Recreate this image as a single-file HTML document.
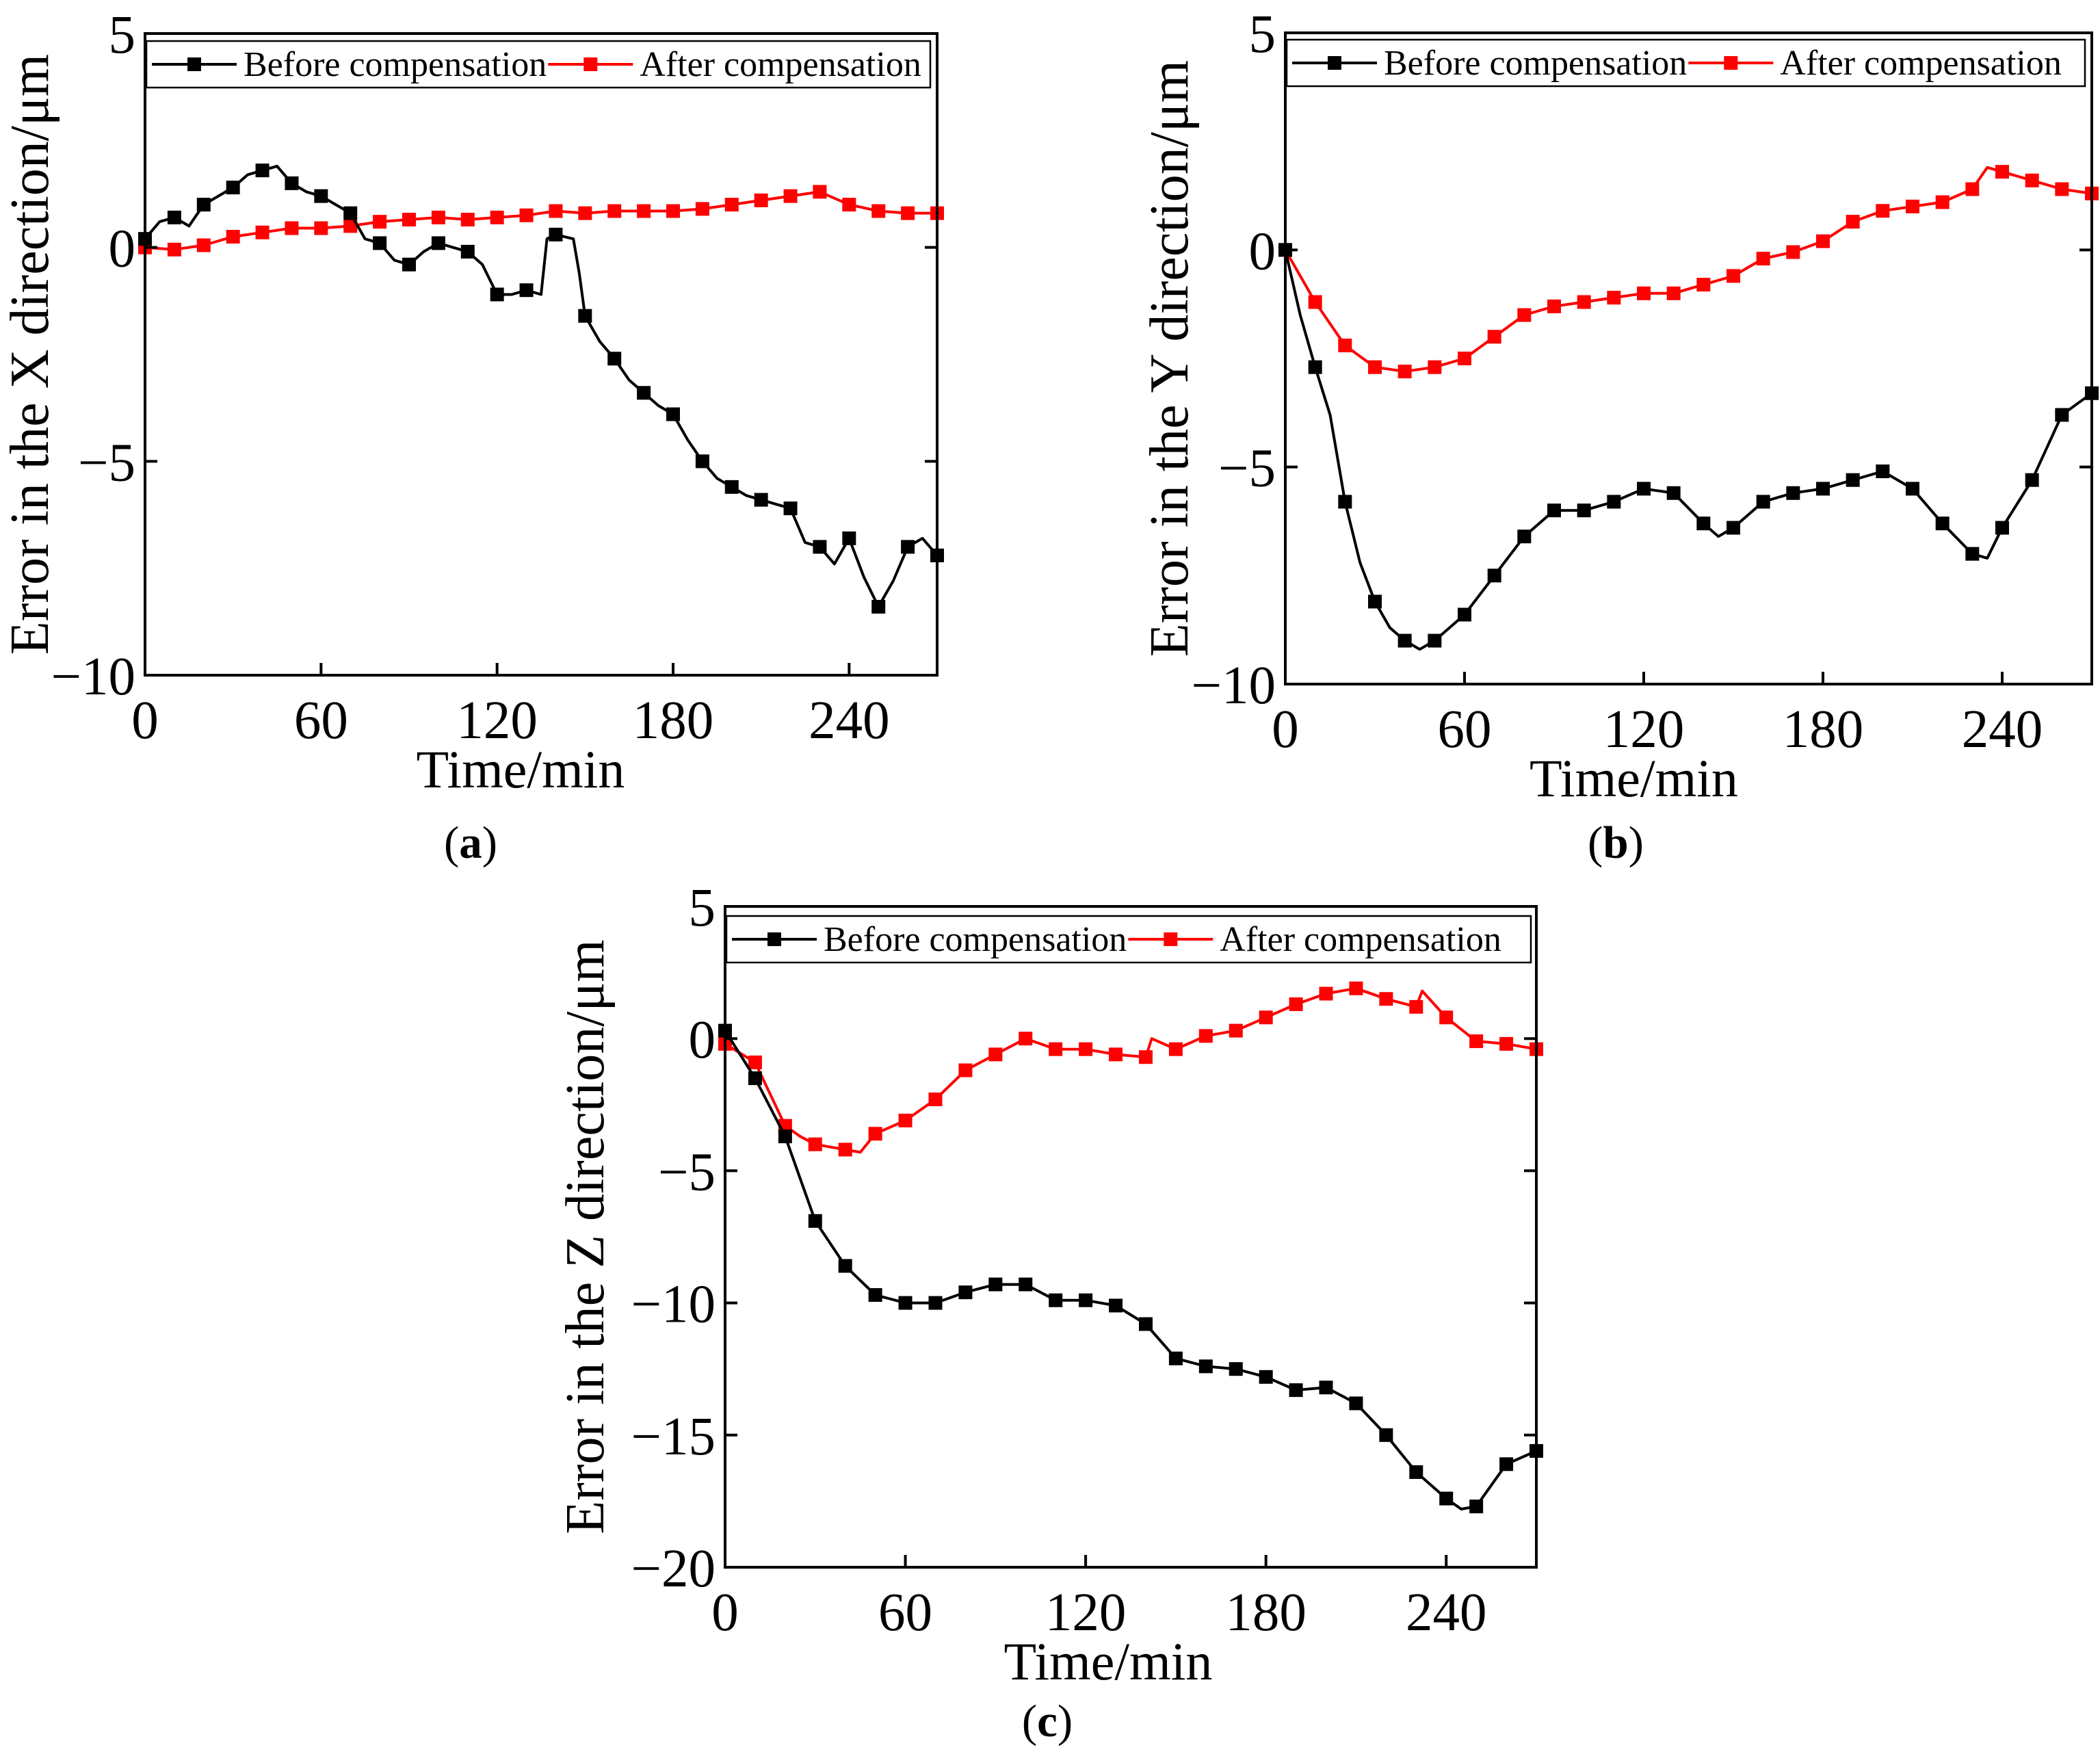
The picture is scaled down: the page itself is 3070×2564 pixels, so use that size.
<!DOCTYPE html>
<html><head><meta charset="utf-8"><style>
html,body{margin:0;padding:0;background:#fff;}
svg{display:block;font-family:"Liberation Serif",serif;}
</style></head><body>
<svg id="fig" width="3070" height="2564" viewBox="0 0 3070 2564" xmlns="http://www.w3.org/2000/svg"></svg>
<script>
// ---- data ----
const xTicks = [0, 60, 120, 180, 240];
const legendLabels = ["Before compensation", "After compensation"];
const aTimeB = [0,5,10,15,20,25,30,35,40,45,50,55,60,65,70,75,80,85,90,95,100,105,110,115,120,125,130,135,137,140,146,148,150,155,160,165,170,175,180,185,190,195,200,205,210,215,220,225,230,235,240,245,250,255,260,265,270];
const aBefore = [0.2,0.6,0.7,0.5,1.0,1.2,1.4,1.7,1.8,1.9,1.5,1.3,1.2,1.0,0.8,0.2,0.1,-0.3,-0.4,-0.1,0.1,0.0,-0.1,-0.4,-1.1,-1.1,-1.0,-1.1,0.2,0.3,0.2,-0.6,-1.6,-2.2,-2.6,-3.1,-3.4,-3.7,-3.9,-4.5,-5.0,-5.4,-5.6,-5.8,-5.9,-6.0,-6.1,-6.9,-7.0,-7.4,-6.8,-7.7,-8.4,-7.8,-7.0,-6.8,-7.2];
const aTimeA = [0,10,20,30,40,50,60,70,80,90,100,110,120,130,140,150,160,170,180,190,200,210,220,230,240,250,260,270];
const aAfter = [0,-0.05,0.05,0.25,0.35,0.45,0.45,0.5,0.6,0.65,0.7,0.65,0.7,0.75,0.85,0.8,0.85,0.85,0.85,0.9,1.0,1.1,1.2,1.3,1.0,0.85,0.8,0.8];
const aYTicks = [5,0,-5,-10];

const bTimeB = [0,5,10,15,20,25,30,35,40,45,50,55,60,70,80,90,100,110,120,130,140,145,150,160,170,180,190,200,210,220,230,235,240,250,260,270];
const bBefore = [0,-1.5,-2.7,-3.8,-5.8,-7.2,-8.1,-8.7,-9.0,-9.2,-9.0,-8.7,-8.4,-7.5,-6.6,-6.0,-6.0,-5.8,-5.5,-5.6,-6.3,-6.6,-6.4,-5.8,-5.6,-5.5,-5.3,-5.1,-5.5,-6.3,-7.0,-7.1,-6.4,-5.3,-3.8,-3.3];
const bTimeA = [0,10,20,30,40,50,60,70,80,90,100,110,120,130,140,150,160,170,180,190,200,210,220,230,235,240,250,260,270];
const bAfter = [0,-1.2,-2.2,-2.7,-2.8,-2.7,-2.5,-2.0,-1.5,-1.3,-1.2,-1.1,-1.0,-1.0,-0.8,-0.6,-0.2,-0.05,0.2,0.65,0.9,1.0,1.1,1.4,1.9,1.8,1.6,1.4,1.3];
const bYTicks = [5,0,-5,-10];

const cTimeB = [0,10,20,30,40,50,60,70,80,90,100,110,120,130,140,150,160,170,180,190,200,210,220,230,240,245,250,260,270];
const cBefore = [0.3,-1.5,-3.7,-6.9,-8.6,-9.7,-10.0,-10.0,-9.6,-9.3,-9.3,-9.9,-9.9,-10.1,-10.8,-12.1,-12.4,-12.5,-12.8,-13.3,-13.2,-13.8,-15.0,-16.4,-17.4,-17.8,-17.7,-16.1,-15.6];
const cTimeA = [0,10,20,25,30,40,45,50,60,70,80,90,100,110,120,130,140,142,150,160,170,180,190,200,210,220,230,232,240,250,260,270];
const cAfter = [-0.2,-0.9,-3.3,-3.7,-4.0,-4.2,-4.3,-3.6,-3.1,-2.3,-1.2,-0.6,0.0,-0.4,-0.4,-0.6,-0.7,0.0,-0.4,0.1,0.3,0.8,1.3,1.7,1.9,1.5,1.2,1.8,0.8,-0.1,-0.2,-0.4];
const cYTicks = [5,0,-5,-10,-15,-20];

const NS = "http://www.w3.org/2000/svg";
const svg = document.getElementById('fig');
function mk(tag, attrs, parent){ const e=document.createElementNS(NS,tag); for(const k in attrs) e.setAttribute(k,attrs[k]); (parent||svg).appendChild(e); return e; }

function panel(cfg){
  const g = mk('g',{});
  
  
  const sx = t => cfg.x0 + (t - 0) / 270 * (cfg.x1 - cfg.x0);
  const sy = v => cfg.yTop + (cfg.ymax - v) / (cfg.ymax - cfg.ymin) * (cfg.yBot - cfg.yTop);
  const series = [[cfg.tA, cfg.after, '#ff0000', 'after'], [cfg.tB, cfg.before, '#000000', 'before']];
  series.forEach(([ts, vs, col, nm]) => {
    const d = ts.map((t,i)=> (i?'L':'M')+sx(t).toFixed(1)+' '+sy(vs[i]).toFixed(1)).join(' ');
    const p = mk('path',{d:d, fill:'none', stroke:col, 'stroke-width':4, 'stroke-linejoin':'round'}, g);
    
    
    ts.forEach((t,i)=>{
      if (t % 10 !== 0) return;
      const r = mk('rect',{x:sx(t)-10, y:sy(vs[i])-10, width:20, height:20, fill:col}, g);
      
      
    });
  });
  const fr = mk('rect',{x:cfg.x0, y:cfg.yTop, width:cfg.x1-cfg.x0, height:cfg.yBot-cfg.yTop, fill:'none', stroke:'#000', 'stroke-width':4}, g);
  
  
  cfg.xt.forEach(t=>{
    const x = sx(t);
    mk('line',{x1:x,y1:cfg.yBot,x2:x,y2:cfg.yBot-18,stroke:'#000','stroke-width':4}, g);
    const tx = mk('text',{x:x, y:cfg.yBot+92, 'font-size':79, 'text-anchor':'middle'}, g);
    tx.textContent = t;
    
    
  });
  cfg.yt.forEach(v=>{
    const y = sy(v);
    mk('line',{x1:cfg.x0,y1:y,x2:cfg.x0+18,y2:y,stroke:'#000','stroke-width':4}, g);
    mk('line',{x1:cfg.x1,y1:y,x2:cfg.x1-18,y2:y,stroke:'#000','stroke-width':4}, g);
    const tx = mk('text',{x:cfg.x0-14, y:y+28, 'font-size':79, 'text-anchor':'end'}, g);
    tx.textContent = v < 0 ? '\u2212' + (-v) : String(v);
    
    
  });
  const L = cfg.leg;
  const lb = mk('rect',{x:L.x, y:L.y, width:L.w, height:68, fill:'#fff', stroke:'#000', 'stroke-width':2.5}, g);
  
  
  const ly = L.y + 34;
  let lx = L.x + 8;
  [['#000', legendLabels[0], 'legend-before'], ['#ff0000', legendLabels[1], 'legend-after']].forEach(([col,lab,nm])=>{
    mk('line',{x1:lx, y1:ly, x2:lx+124, y2:ly, stroke:col, 'stroke-width':4}, g);
    mk('rect',{x:lx+52, y:ly-10, width:20, height:20, fill:col}, g);
    const tx = mk('text',{x:lx+134, y:ly+17, 'font-size':52}, g);
    tx.textContent = lab;
    
    
    lx = lx + 134 + tx.getComputedTextLength() + 2;
  });
  const xt = mk('text',{x:(cfg.x0+cfg.x1)/2 + cfg.xtOff, y:cfg.yBot+164, 'font-size':78, 'text-anchor':'middle'}, g);
  xt.textContent = 'Time/min';
  
  
  const yc = (cfg.yTop+cfg.yBot)/2;
  const yt = mk('text',{x:cfg.ytx, y:yc, 'font-size':80, 'text-anchor':'middle', transform:'rotate(-90 '+cfg.ytx+' '+yc+')'}, g);
  yt.textContent = cfg.ytitle;
  
  
  const pl = mk('text',{x:cfg.lab[0], y:cfg.lab[1], 'font-size':67, 'text-anchor':'middle'}, g);
  pl.innerHTML = '(<tspan font-weight="bold">'+cfg.id+'</tspan>)';
  
  
}

panel({id:'a', x0:212, x1:1370, yTop:49, yBot:987, ymax:5, ymin:-10, xt:xTicks, yt:aYTicks,
  tB:aTimeB, before:aBefore, tA:aTimeA, after:aAfter, xtOff:-30,
  leg:{x:214, y:60, w:1146}, ytx:70, ytitle:'Error in the X direction/\u03bcm', lab:[688,1254]});
panel({id:'b', x0:1879, x1:3058, yTop:48, yBot:1000, ymax:5, ymin:-10, xt:xTicks, yt:bYTicks,
  tB:bTimeB, before:bBefore, tA:bTimeA, after:bAfter, xtOff:-80,
  leg:{x:1881, y:58, w:1167}, ytx:1736, ytitle:'Error in the Y direction/\u03bcm', lab:[2362,1254]});
panel({id:'c', x0:1060, x1:2246, yTop:1325, yBot:2291, ymax:5, ymin:-20, xt:xTicks, yt:cYTicks,
  tB:cTimeB, before:cBefore, tA:cTimeA, after:cAfter, xtOff:-33,
  leg:{x:1062, y:1339, w:1176}, ytx:882, ytitle:'Error in the Z direction/\u03bcm', lab:[1531,2538]});
</script>
</body></html>
